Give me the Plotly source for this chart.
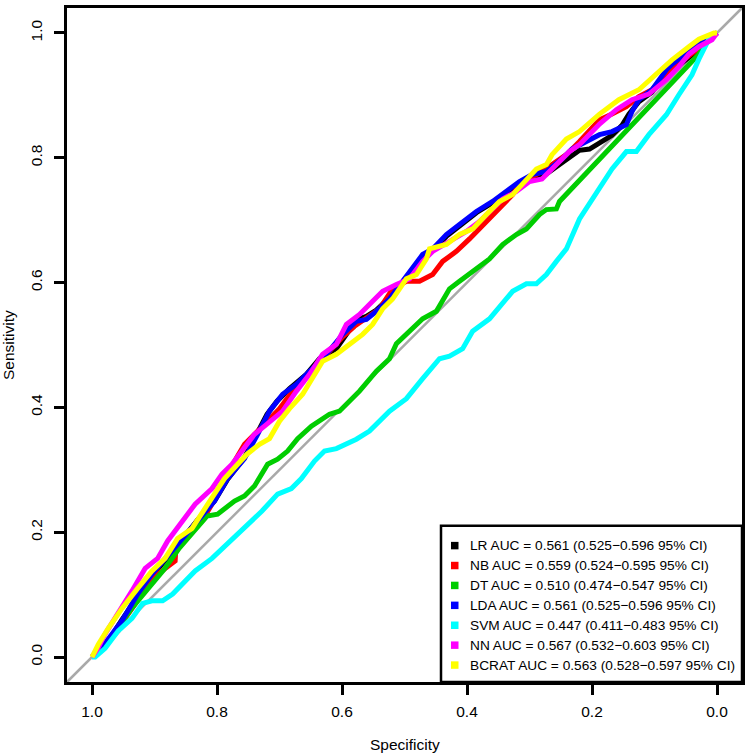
import plotly.graph_objects as go

# ---------------- data ----------------
models = ["LR", "NB", "DT", "LDA", "SVM", "NN", "BCRAT"]
colors = ["#000000", "#FF0000", "#00CD00", "#0000FF", "#00FFFF", "#FF00FF", "#FFFF00"]
legend_labels = [
    "LR AUC = 0.561 (0.525\u22120.596 95% CI)",
    "NB AUC = 0.559 (0.524\u22120.595 95% CI)",
    "DT AUC = 0.510 (0.474\u22120.547 95% CI)",
    "LDA AUC = 0.561 (0.525\u22120.596 95% CI)",
    "SVM AUC = 0.447 (0.411\u22120.483 95% CI)",
    "NN AUC = 0.567 (0.532\u22120.603 95% CI)",
    "BCRAT AUC = 0.563 (0.528\u22120.597 95% CI)",
]
tick_vals = [0.0, 0.2, 0.4, 0.6, 0.8, 1.0]
tick_text = ["0.0", "0.2", "0.4", "0.6", "0.8", "1.0"]

lr_spec = [1.0, 0.979, 0.952, 0.927, 0.904, 0.872, 0.851, 0.831, 0.804, 0.783, 0.756, 0.736, 0.720, 0.704,
           0.684, 0.657, 0.636, 0.609, 0.593, 0.577, 0.561, 0.545, 0.524, 0.503, 0.481, 0.471, 0.455, 0.433,
           0.412, 0.385, 0.359, 0.337, 0.316, 0.296, 0.273, 0.248, 0.220, 0.204, 0.188, 0.168, 0.152, 0.141,
           0.125, 0.104, 0.081, 0.061, 0.040, 0.020, 0.0]
lr_sens = [0.0, 0.018, 0.060, 0.098, 0.130, 0.168, 0.195, 0.220, 0.250, 0.285, 0.320, 0.357, 0.389, 0.410,
           0.430, 0.453, 0.478, 0.494, 0.517, 0.540, 0.546, 0.556, 0.576, 0.600, 0.626, 0.642, 0.652, 0.674,
           0.690, 0.712, 0.728, 0.744, 0.758, 0.768, 0.774, 0.792, 0.812, 0.814, 0.824, 0.836, 0.852, 0.870,
           0.890, 0.905, 0.935, 0.948, 0.965, 0.985, 1.0]

nb_spec = [1.0, 0.985, 0.958, 0.947, 0.931, 0.904, 0.883, 0.867, 0.866, 0.840, 0.824, 0.808, 0.788, 0.772,
           0.756, 0.740, 0.720, 0.700, 0.680, 0.660, 0.640, 0.620, 0.600, 0.580, 0.560, 0.540, 0.519, 0.497,
           0.476, 0.455, 0.439, 0.417, 0.396, 0.380, 0.364, 0.343, 0.327, 0.312, 0.289, 0.264, 0.241, 0.220,
           0.188, 0.168, 0.145, 0.125, 0.104, 0.081, 0.055, 0.030, 0.0]
nb_sens = [0.0, 0.014, 0.042, 0.062, 0.085, 0.126, 0.142, 0.154, 0.170, 0.206, 0.218, 0.245, 0.286, 0.314,
           0.341, 0.357, 0.378, 0.398, 0.425, 0.447, 0.470, 0.492, 0.512, 0.530, 0.545, 0.558, 0.590, 0.602,
           0.602, 0.613, 0.634, 0.650, 0.670, 0.686, 0.702, 0.725, 0.741, 0.762, 0.773, 0.789, 0.805, 0.826,
           0.861, 0.870, 0.882, 0.898, 0.909, 0.935, 0.955, 0.975, 1.0]

dt_spec = [1.0, 0.985, 0.960, 0.935, 0.910, 0.885, 0.860, 0.835, 0.816, 0.799, 0.788, 0.772, 0.756, 0.740,
           0.719, 0.703, 0.687, 0.671, 0.649, 0.620, 0.604, 0.572, 0.545, 0.524, 0.513, 0.492, 0.471, 0.449,
           0.428, 0.412, 0.385, 0.364, 0.343, 0.321, 0.305, 0.284, 0.273, 0.257, 0.252, 0.029, 0.008, 0.0]
dt_sens = [0.0, 0.012, 0.045, 0.080, 0.110, 0.140, 0.175, 0.205, 0.226, 0.229, 0.238, 0.250, 0.258, 0.274,
           0.309, 0.317, 0.330, 0.350, 0.370, 0.389, 0.394, 0.426, 0.458, 0.478, 0.502, 0.522, 0.542, 0.554,
           0.590, 0.602, 0.622, 0.638, 0.661, 0.677, 0.686, 0.709, 0.717, 0.718, 0.730, 0.966, 0.997, 1.0]

lda_spec = [1.0, 0.985, 0.952, 0.927, 0.904, 0.872, 0.851, 0.831, 0.804, 0.783, 0.756, 0.735, 0.716, 0.695,
            0.673, 0.652, 0.631, 0.599, 0.577, 0.561, 0.545, 0.524, 0.503, 0.481, 0.471, 0.455, 0.433, 0.412,
            0.385, 0.359, 0.337, 0.316, 0.296, 0.273, 0.248, 0.232, 0.209, 0.188, 0.168, 0.145, 0.136, 0.125,
            0.104, 0.081, 0.072, 0.045, 0.020, 0.0]
lda_sens = [0.0, 0.014, 0.058, 0.101, 0.133, 0.170, 0.197, 0.218, 0.250, 0.286, 0.318, 0.357, 0.394, 0.421,
            0.437, 0.458, 0.478, 0.517, 0.538, 0.541, 0.554, 0.574, 0.602, 0.629, 0.645, 0.654, 0.677, 0.693,
            0.714, 0.730, 0.746, 0.762, 0.773, 0.778, 0.798, 0.814, 0.826, 0.837, 0.842, 0.853, 0.874, 0.893,
            0.909, 0.941, 0.950, 0.972, 0.990, 1.0]

svm_spec = [1.0, 0.995, 0.979, 0.958, 0.936, 0.919, 0.904, 0.887, 0.871, 0.856, 0.835, 0.808, 0.783, 0.756,
            0.728, 0.703, 0.681, 0.665, 0.644, 0.628, 0.609, 0.577, 0.556, 0.524, 0.497, 0.471, 0.444, 0.428,
            0.407, 0.391, 0.364, 0.327, 0.305, 0.289, 0.273, 0.257, 0.241, 0.220, 0.200, 0.188, 0.168, 0.145,
            0.129, 0.109, 0.081, 0.061, 0.040, 0.029, 0.021, 0.013, 0.0]
svm_sens = [0.0, 0.0, 0.014, 0.042, 0.062, 0.086, 0.090, 0.090, 0.101, 0.117, 0.138, 0.158, 0.181, 0.206,
            0.234, 0.261, 0.270, 0.286, 0.314, 0.330, 0.334, 0.349, 0.362, 0.394, 0.414, 0.446, 0.478, 0.482,
            0.494, 0.522, 0.542, 0.586, 0.598, 0.598, 0.613, 0.634, 0.654, 0.702, 0.734, 0.750, 0.782, 0.810,
            0.810, 0.837, 0.869, 0.901, 0.933, 0.958, 0.974, 0.990, 1.0]

nn_spec = [1.0, 0.990, 0.979, 0.958, 0.936, 0.915, 0.895, 0.879, 0.856, 0.835, 0.808, 0.792, 0.776, 0.760,
           0.740, 0.724, 0.695, 0.673, 0.652, 0.631, 0.609, 0.593, 0.572, 0.551, 0.535, 0.513, 0.492, 0.471,
           0.455, 0.428, 0.401, 0.380, 0.364, 0.343, 0.321, 0.300, 0.280, 0.257, 0.236, 0.220, 0.188, 0.161,
           0.136, 0.109, 0.081, 0.061, 0.045, 0.029, 0.008, 0.0]
nn_sens = [0.0, 0.015, 0.037, 0.069, 0.106, 0.142, 0.158, 0.186, 0.218, 0.245, 0.270, 0.293, 0.309, 0.330,
           0.357, 0.370, 0.394, 0.426, 0.453, 0.485, 0.501, 0.533, 0.549, 0.570, 0.586, 0.597, 0.606, 0.634,
           0.650, 0.666, 0.682, 0.698, 0.714, 0.734, 0.746, 0.762, 0.766, 0.789, 0.810, 0.821, 0.854, 0.877,
           0.893, 0.902, 0.925, 0.946, 0.966, 0.978, 0.989, 1.0]

bcrat_spec = [1.0, 0.990, 0.974, 0.952, 0.927, 0.904, 0.883, 0.863, 0.840, 0.819, 0.799, 0.788, 0.767, 0.752,
              0.732, 0.716, 0.700, 0.684, 0.663, 0.647, 0.631, 0.609, 0.593, 0.567, 0.551, 0.535, 0.519, 0.497,
              0.481, 0.465, 0.460, 0.433, 0.412, 0.391, 0.369, 0.348, 0.327, 0.305, 0.289, 0.273, 0.264, 0.241,
              0.220, 0.188, 0.157, 0.125, 0.097, 0.072, 0.045, 0.029, 0.005, 0.0]
bcrat_sens = [0.0, 0.020, 0.046, 0.078, 0.110, 0.138, 0.158, 0.190, 0.206, 0.238, 0.270, 0.286, 0.309, 0.325,
              0.341, 0.350, 0.378, 0.398, 0.421, 0.446, 0.474, 0.485, 0.497, 0.517, 0.533, 0.558, 0.574, 0.606,
              0.613, 0.638, 0.654, 0.661, 0.677, 0.686, 0.709, 0.730, 0.741, 0.766, 0.782, 0.789, 0.805, 0.830,
              0.842, 0.870, 0.893, 0.909, 0.934, 0.957, 0.978, 0.990, 1.0, 1.0]

series_spec = [lr_spec, nb_spec, dt_spec, lda_spec, svm_spec, nn_spec, bcrat_spec]
series_sens = [lr_sens, nb_sens, dt_sens, lda_sens, svm_sens, nn_sens, bcrat_sens]

# ---------------- layout constants ----------------
W, H = 750, 756
ML, MR, MT, MB = 67, 8, 5, 74
PW, PH = W - ML - MR, H - MT - MB
FONT = "Liberation Sans, Arial, Helvetica, sans-serif"


def px_x(px):
    return (px - ML) / PW


def px_y(py):
    return (MT + PH - py) / PH


fig = go.Figure()
for name, col, xs, ys in zip(models, colors, series_spec, series_sens):
    fig.add_trace(go.Scatter(x=xs, y=ys, mode="lines", name=name,
                             line=dict(color=col, width=5), showlegend=False,
                             hoverinfo="skip"))

shapes = []
# identity (chance) line across the whole plotting region
shapes.append(dict(type="line", xref="paper", yref="paper", x0=0, y0=0, x1=1, y1=1,
                   line=dict(color="#A9A9A9", width=2.5), layer="below"))

# legend box
shapes.append(dict(type="rect", xref="paper", yref="paper",
                   x0=px_x(441), x1=1.0, y0=0.0, y1=px_y(525),
                   line=dict(color="black", width=2.5), fillcolor="white", layer="above"))
annotations = []
for i, (col, lab) in enumerate(zip(colors, legend_labels)):
    cy = 545 + 20 * i
    shapes.append(dict(type="rect", xref="paper", yref="paper",
                       x0=px_x(451), x1=px_x(458.5), y0=px_y(cy + 3.75), y1=px_y(cy - 3.75),
                       line=dict(width=0), fillcolor=col, layer="above"))
    annotations.append(dict(xref="paper", yref="paper", x=px_x(467.5), y=px_y(cy),
                            xanchor="left", yanchor="middle", text=lab, showarrow=False,
                            font=dict(family=FONT, size=13.7, color="black")))

# axis titles
annotations.append(dict(xref="paper", yref="paper", x=0.5, y=px_y(745), xanchor="center",
                        yanchor="middle", text="Specificity", showarrow=False,
                        font=dict(family=FONT, size=15.5, color="black")))
annotations.append(dict(xref="paper", yref="paper", x=px_x(8), y=0.5, xanchor="center",
                        yanchor="middle", text="Sensitivity", textangle=-90, showarrow=False,
                        font=dict(family=FONT, size=15.5, color="black")))

axis_common = dict(showgrid=False, zeroline=False, showline=True, mirror=True,
                   linecolor="black", linewidth=2.5, ticks="outside", ticklen=10,
                   tickwidth=2.5, tickcolor="black", tickvals=tick_vals, ticktext=tick_text,
                   tickfont=dict(family=FONT, size=15.5, color="black"))

fig.update_layout(
    width=W, height=H,
    margin=dict(l=ML, r=MR, t=MT, b=MB, pad=0),
    paper_bgcolor="white", plot_bgcolor="white",
    xaxis=dict(range=[1.04, -0.04], ticklabelstandoff=4, **axis_common),
    yaxis=dict(range=[-0.04, 1.04], tickangle=-90, ticklabelstandoff=6, **axis_common),
    shapes=shapes, annotations=annotations, showlegend=False,
)

# the page's default 8px body margin would shift the whole figure; remove it
fig.write_html("out.html", config={"displayModeBar": False},
               post_script="document.body.style.margin='0';document.body.style.overflow='hidden';")
